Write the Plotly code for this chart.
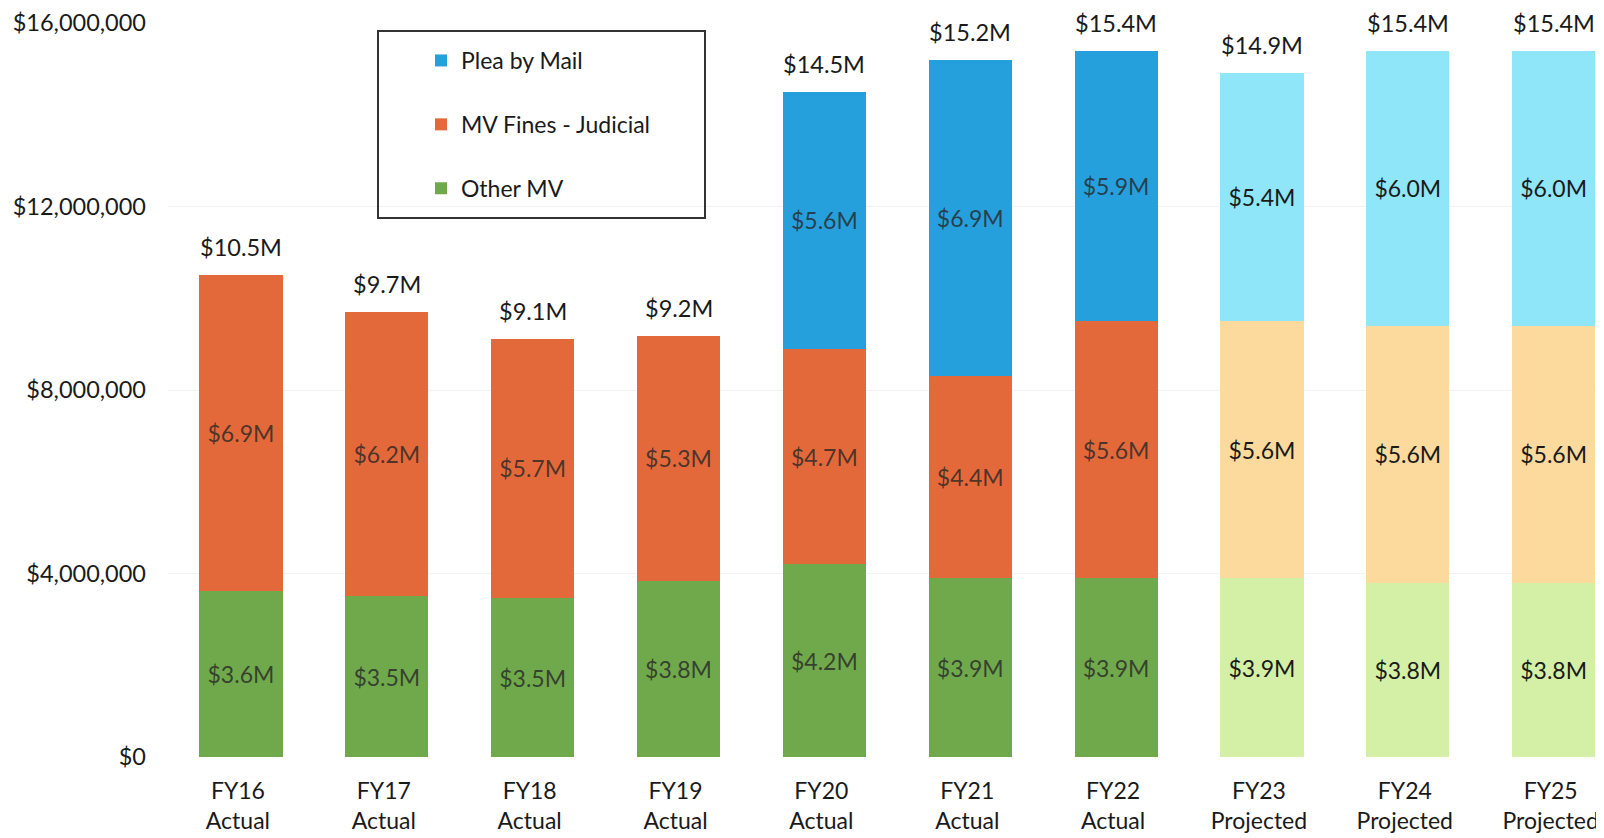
import plotly.graph_objects as go

categories = ["FY16<br>Actual", "FY17<br>Actual", "FY18<br>Actual", "FY19<br>Actual",
              "FY20<br>Actual", "FY21<br>Actual", "FY22<br>Actual",
              "FY23<br>Projected", "FY24<br>Projected", "FY25<br>Projected"]
projected = [False, False, False, False, False, False, False, True, True, True]

# values in $ millions
other_mv = [3.62, 3.5, 3.46, 3.84, 4.2, 3.9, 3.9, 3.9, 3.8, 3.8]
mv_fines = [6.88, 6.2, 5.66, 5.34, 4.7, 4.4, 5.6, 5.6, 5.6, 5.6]
plea_by_mail = [None, None, None, None, 5.6, 6.9, 5.9, 5.4, 6.0, 6.0]

y_ticks = [0, 4_000_000, 8_000_000, 12_000_000, 16_000_000]
y_tick_text = ["$0", "$4,000,000", "$8,000,000", "$12,000,000", "$16,000,000"]

FONT = "Lato, 'Open Sans', sans-serif"

series = [
    ("Other MV", other_mv, "#70A94C", "#D4F0A6"),
    ("MV Fines - Judicial", mv_fines, "#E4693A", "#FCD99C"),
    ("Plea by Mail", plea_by_mail, "#26A0DC", "#8EE6F8"),
]

OFF = 8  # page body margin offset
L, R, T, B = 168 - OFF, 0, 23 - OFF, 838 - (757 - OFF)
PW, PH = 1604 - L - R, 838 - T - B


def px_x(sx):
    return (sx - OFF - L) / PW


def px_y(sy):
    return (838 - B - (sy - OFF)) / PH


fig = go.Figure()
for i, (name, vals, c_act, c_proj) in enumerate(series):
    y = [v * 1e6 if v is not None else None for v in vals]
    colors = [c_proj if p else c_act for p in projected]
    txt = [f"${v:.1f}M" if v is not None else "" for v in vals]
    tcol = ["#1a1a1a" if p else "rgba(38,38,38,0.8)" for p in projected]
    fig.add_trace(go.Bar(
        name=name, x=categories, y=y,
        marker=dict(color=colors, line=dict(width=0)),
        text=txt, textposition="inside", insidetextanchor="middle",
        textangle=0,
        insidetextfont=dict(family=FONT, size=23, color=tcol),
        legendgroup=name, legendrank=3 - i,
    ))

totals = []
for a, b, c in zip(other_mv, mv_fines, plea_by_mail):
    totals.append(a + b + (c or 0))

for cat, t in zip(categories, totals):
    fig.add_annotation(x=cat, y=t * 1e6, text=f"${t:.1f}M", showarrow=False,
                       yanchor="bottom", yshift=12,
                       font=dict(family=FONT, size=23.5, color="#1a1a1a"))

# legend frame
fig.add_shape(type="rect", xref="paper", yref="paper",
              x0=px_x(378), x1=px_x(705), y0=px_y(218), y1=px_y(31),
              line=dict(color="#333333", width=2), fillcolor="rgba(0,0,0,0)")

fig.update_layout(
    width=1604, height=838,
    barmode="stack", bargap=0.43,
    paper_bgcolor="white", plot_bgcolor="white",
    margin=dict(l=L, r=R, t=T, b=B, autoexpand=False),
    font=dict(family=FONT, size=23, color="#1a1a1a"),
    showlegend=True,
    legend=dict(x=px_x(421), y=px_y(39), xanchor="left", yanchor="top",
                bgcolor="rgba(0,0,0,0)", borderwidth=0,
                font=dict(family=FONT, size=23, color="#1a1a1a"),
                tracegroupgap=31, itemsizing="constant", traceorder="grouped"),
    xaxis=dict(range=[-0.5, 9.40], showgrid=False, zeroline=False, showline=False,
               automargin=False,
               ticks="", tickfont=dict(family=FONT, size=23, color="#1a1a1a"),
               ticklabelstandoff=18, ticklabelshift=-3),
    yaxis=dict(range=[0, 16_000_000], tickvals=y_ticks, ticktext=y_tick_text,
               automargin=False,
               showgrid=True, gridcolor="#F3F3F3", gridwidth=1, zeroline=False,
               showline=False, ticks="", ticklabelstandoff=21,
               tickfont=dict(family=FONT, size=23.5, color="#1a1a1a")),
)

fig.write_html("out.html")
